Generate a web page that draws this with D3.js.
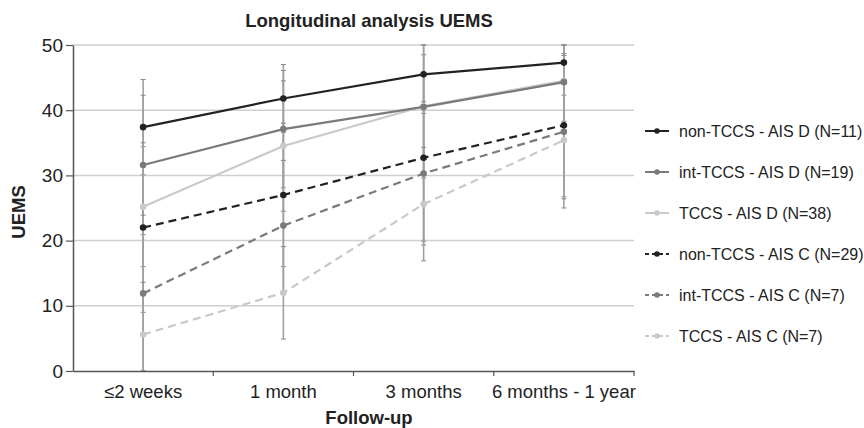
<!DOCTYPE html>
<html>
<head>
<meta charset="utf-8">
<script src="https://cdn.jsdelivr.net/npm/d3@7"></script>
<style>
  body { margin: 0; background: #fff; }
  svg { font-family: "Liberation Sans", Arial, sans-serif; }
</style>
</head>
<body>
<div id="figure-container"></div>
<script>
var categories = ['\u22642 weeks', '1 month', '3 months', '6 months - 1 year'];
var yTicks = [0, 10, 20, 30, 40, 50];

var seriesNames = [
  'non-TCCS - AIS D (N=11)',
  'int-TCCS - AIS D (N=19)',
  'TCCS - AIS D (N=38)',
  'non-TCCS - AIS C (N=29)',
  'int-TCCS - AIS C (N=7)',
  'TCCS - AIS C (N=7)'
];

// mean UEMS per follow-up
var nonTccsD = [37.4, 41.8, 45.5, 47.3];
var intTccsD = [31.6, 37.1, 40.5, 44.3];
var tccsD    = [25.2, 34.5, 40.6, 44.5];
var nonTccsC = [22.0, 27.0, 32.7, 37.7];
var intTccsC = [11.9, 22.3, 30.3, 36.7];
var tccsC    = [5.6, 12.0, 25.6, 35.4];

// standard deviations (error bars)
var nonTccsDsd = [7.3, 5.2, 6.0, 5.0];
var intTccsDsd = [10.7, 9.0, 8.0, 6.0];
var tccsDsd    = [9.2, 10.0, 11.0, 7.0];
var nonTccsCsd = [13.0, 11.0, 12.8, 11.0];
var intTccsCsd = [12.0, 10.0, 11.0, 11.7];
var tccsCsd    = [8.0, 7.1, 8.7, 9.0];

var values = [nonTccsD, intTccsD, tccsD, nonTccsC, intTccsC, tccsC];
var errors = [nonTccsDsd, intTccsDsd, tccsDsd, nonTccsCsd, intTccsCsd, tccsCsd];
var colors = ['#222222', '#7a7a7a', '#c9c9c9', '#222222', '#7a7a7a', '#c9c9c9'];
var dashed = [false, false, false, true, true, true];

var series = seriesNames.map(function(name, i) {
  return {name: name, color: colors[i], dashed: dashed[i],
    points: values[i].map(function(v, j) { return {cat: categories[j], v: v, sd: errors[i][j]}; })};
});

var fullWidth = 864, fullHeight = 428;
var margin = {top: 45, left: 73};
var width = 561, height = 326;

var svg = d3.select('#figure-container')
  .append('svg')
  .attr('width', fullWidth)
  .attr('height', fullHeight);

var g = svg.append('g')
  .attr('transform', `translate(${margin.left},${margin.top})`);

var xScale = d3.scaleBand().domain(categories).range([0, width]);
var yScale = d3.scaleLinear().domain([0, 50]).range([height, 0]);
var xc = function(c) { return xScale(c) + xScale.bandwidth() / 2; };

// gridlines
g.append('g')
  .selectAll('line')
  .data(yTicks.slice(1))
  .enter().append('line')
    .attr('x1', 0).attr('x2', width)
    .attr('y1', function(d) { return yScale(d); })
    .attr('y2', function(d) { return yScale(d); })
    .attr('stroke', '#cfcfcf')
    .attr('stroke-width', 1.5);

// error bars
var clamp = function(v) { return Math.max(0, Math.min(50, v)); };
var eb = g.append('g').attr('class', 'error-bars');
series.forEach(function(s) {
  s.points.forEach(function(p) {
    var x = xc(p.cat);
    var hi = clamp(p.v + p.sd), lo = clamp(p.v - p.sd);
    eb.append('line')
      .attr('x1', x).attr('x2', x)
      .attr('y1', yScale(hi)).attr('y2', yScale(lo))
      .attr('stroke', '#a0a0a0').attr('stroke-width', 1.6);
    [hi, lo].forEach(function(e) {
      eb.append('line')
        .attr('x1', x - 2.5).attr('x2', x + 2.5)
        .attr('y1', yScale(e)).attr('y2', yScale(e))
        .attr('stroke', '#888').attr('stroke-width', 1);
    });
  });
});

// series lines
var line = d3.line()
  .x(function(d) { return xc(d.cat); })
  .y(function(d) { return yScale(d.v); });

var order = [2, 1, 0, 5, 4, 3];
order.forEach(function(i) {
  var s = series[i];
  g.append('path')
    .datum(s.points)
    .attr('d', line)
    .attr('fill', 'none')
    .attr('stroke', s.color)
    .attr('stroke-width', 2.2)
    .attr('stroke-dasharray', s.dashed ? '8,5' : null);
  g.append('g')
    .selectAll('circle')
    .data(s.points)
    .enter().append('circle')
      .attr('cx', function(d) { return xc(d.cat); })
      .attr('cy', function(d) { return yScale(d.v); })
      .attr('r', 3.3)
      .attr('fill', s.color);
});

// axes
var yAxis = d3.axisLeft(yScale).tickValues(yTicks).tickSize(7).tickSizeOuter(0);
var xAxis = d3.axisBottom(xScale).tickSize(0).tickSizeOuter(0);

var yg = g.append('g').attr('class', 'axis y').call(yAxis);
yg.select('.domain').attr('stroke', '#555').attr('stroke-width', 1.5);
yg.selectAll('.tick line').attr('stroke', '#555').attr('stroke-width', 1.2);
yg.selectAll('.tick text').attr('font-size', 19).attr('fill', '#222').attr('x', -10);

var xg = g.append('g').attr('class', 'axis x')
  .attr('transform', `translate(0,${height})`)
  .call(xAxis);
xg.select('.domain').attr('stroke', '#555').attr('stroke-width', 1.5);
xg.selectAll('.tick text').attr('font-size', 18.5).attr('fill', '#222').attr('dy', 0).attr('y', 27);

// band boundary ticks
xg.append('g')
  .selectAll('line')
  .data(categories.slice(1).concat(['end']))
  .enter().append('line')
    .attr('x1', function(d) { return d === 'end' ? width : xScale(d); })
    .attr('x2', function(d) { return d === 'end' ? width : xScale(d); })
    .attr('y1', 0).attr('y2', 5)
    .attr('stroke', '#555').attr('stroke-width', 1.2);

// titles
svg.append('text')
  .attr('x', 369).attr('y', 27)
  .attr('text-anchor', 'middle')
  .attr('font-size', 18.5).attr('font-weight', 'bold').attr('fill', '#222')
  .text('Longitudinal analysis UEMS');

svg.append('text')
  .attr('x', 369).attr('y', 424)
  .attr('text-anchor', 'middle')
  .attr('font-size', 18.5).attr('font-weight', 'bold').attr('fill', '#222')
  .text('Follow-up');

svg.append('text')
  .attr('transform', 'translate(25,212) rotate(-90)')
  .attr('text-anchor', 'middle')
  .attr('font-size', 18.5).attr('font-weight', 'bold').attr('fill', '#222')
  .text('UEMS');

// legend
var legend = svg.append('g')
  .selectAll('g')
  .data(series)
  .enter().append('g')
    .attr('transform', function(d, i) { return `translate(645,${131 + i * 41})`; });

legend.append('line')
  .attr('x1', 0).attr('x2', 24)
  .attr('stroke', function(d) { return d.color; })
  .attr('stroke-width', 2)
  .attr('stroke-dasharray', function(d) { return d.dashed ? '4,3' : null; });
legend.append('circle')
  .attr('cx', 12).attr('r', 2.8)
  .attr('fill', function(d) { return d.color; });
legend.append('text')
  .attr('x', 34).attr('dy', '0.35em')
  .attr('font-size', 16).attr('fill', '#222')
  .text(function(d) { return d.name; });
</script>
</body>
</html>
